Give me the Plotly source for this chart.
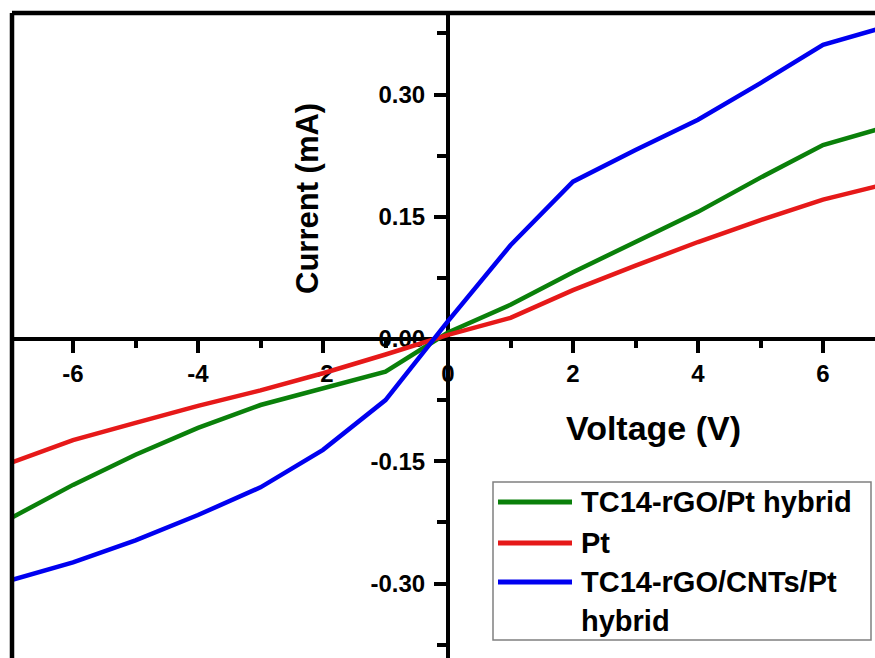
import plotly.graph_objects as go

# I-V sweep, bias voltage in volts
voltage = [-7, -6, -5, -4, -3, -2, -1, 0, 1, 2, 3, 4, 5, 6, 7]

# current in mA for each electrode
i_rgo_pt = [-0.220, -0.179, -0.142, -0.109, -0.081, -0.061, -0.040, 0.008,
            0.042, 0.082, 0.119, 0.156, 0.198, 0.238, 0.260]
i_pt = [-0.152, -0.124, -0.103, -0.082, -0.063, -0.042, -0.019, 0.005,
        0.026, 0.060, 0.090, 0.119, 0.146, 0.171, 0.190]
i_cnt = [-0.296, -0.274, -0.247, -0.216, -0.182, -0.136, -0.075, 0.022,
         0.115, 0.193, 0.232, 0.269, 0.314, 0.361, 0.383]

series_names = ["TC14-rGO/Pt hybrid", "Pt", "TC14-rGO/CNTs/Pt hybrid"]
series_colors = ["#0a800a", "#e61919", "#0000f0"]
legend_rows = ["TC14-rGO/Pt hybrid", "Pt", "TC14-rGO/CNTs/Pt", "hybrid"]

x_tickvals = [-6, -4, -2, 0, 2, 4, 6]
x_ticktext = ["-6", "-4", "-2", "0", "2", "4", "6"]
x_minor = [-7, -5, -3, -1, 1, 3, 5, 7]
y_tickvals = [-0.30, -0.15, 0.0, 0.15, 0.30]
y_ticktext = ["-0.30", "-0.15", "0.00", "0.15", "0.30"]
y_minor = [-0.375, -0.225, -0.075, 0.075, 0.225, 0.375]

W, H = 875, 658
L, T = 12, 13
PW, PH = W - L, H - T
x_min, x_max = -6.976, -6.976 + PW / 62.5
y_max = 0.40
y_min = y_max - PH / 815.0


def px(x):
    return (x - L) / PW


def py(y):
    return 1 - (y - T) / PH


FONT = "Liberation Sans, Arial, sans-serif"

fig = go.Figure()
for name, ys, col in zip(series_names, [i_rgo_pt, i_pt, i_cnt], series_colors):
    fig.add_trace(go.Scatter(x=voltage, y=ys, name=name, mode="lines",
                             line=dict(color=col, width=4.5), showlegend=False))

axis_common = dict(showline=True, linewidth=4, linecolor="black",
                   ticks="outside", ticklen=12, tickwidth=3.5, tickcolor="black",
                   showgrid=False, zeroline=False, layer="below traces",
                   tickfont=dict(family=FONT, size=24, color="black", weight="bold"),
                   anchor="free")

fig.update_xaxes(range=[x_min, x_max], tickmode="array", tickvals=x_tickvals,
                 ticktext=x_ticktext, position=(0 - y_min) / (y_max - y_min),
                 minor=dict(tickmode="array", tickvals=x_minor, ticks="outside",
                            ticklen=7, tickwidth=3.5, tickcolor="black"),
                 **axis_common)
fig.update_yaxes(range=[y_min, y_max], tickmode="array", tickvals=y_tickvals,
                 ticktext=y_ticktext, position=(0 - x_min) / (x_max - x_min),
                 ticklabelstandoff=4,
                 minor=dict(tickmode="array", tickvals=y_minor, ticks="outside",
                            ticklen=9, tickwidth=3.5, tickcolor="black"),
                 **axis_common)

shapes = [
    # frame edges
    dict(type="line", xref="paper", yref="paper", x0=0, x1=0, y0=0, y1=1,
         line=dict(color="black", width=4.5)),
    dict(type="line", xref="paper", yref="paper", x0=0, x1=1, y0=1, y1=1,
         line=dict(color="black", width=4.5)),
    # legend box
    dict(type="rect", xref="paper", yref="paper", x0=px(493), x1=px(871),
         y0=py(640), y1=py(482), line=dict(color="#808080", width=1.5),
         fillcolor="white", layer="above"),
]
row_y = [502, 543, 582, 621]
for col, yy in zip(series_colors, row_y[:3]):
    shapes.append(dict(type="line", xref="paper", yref="paper", x0=px(498), x1=px(572),
                       y0=py(yy), y1=py(yy), line=dict(color=col, width=5),
                       layer="above"))

annotations = [
    dict(text="Current (mA)", x=px(307), y=py(199), xref="paper", yref="paper",
         xanchor="center", yanchor="middle", textangle=-90, showarrow=False,
         font=dict(family=FONT, size=31, color="black", weight="bold")),
    dict(text="Voltage (V)", x=px(653), y=py(428), xref="paper", yref="paper",
         xanchor="center", yanchor="middle", showarrow=False,
         font=dict(family=FONT, size=34, color="black", weight="bold")),
]
for txt, yy in zip(legend_rows, row_y):
    annotations.append(dict(text=txt, x=px(579), y=py(yy), xref="paper", yref="paper",
                            xanchor="left", yanchor="middle", showarrow=False,
                            font=dict(family=FONT, size=29, color="black",
                                      weight="bold")))

fig.update_layout(width=W, height=H, margin=dict(l=L, r=0, t=T, b=0),
                  plot_bgcolor="white", paper_bgcolor="white",
                  shapes=shapes, annotations=annotations, showlegend=False)

fig.write_html("out.html")
